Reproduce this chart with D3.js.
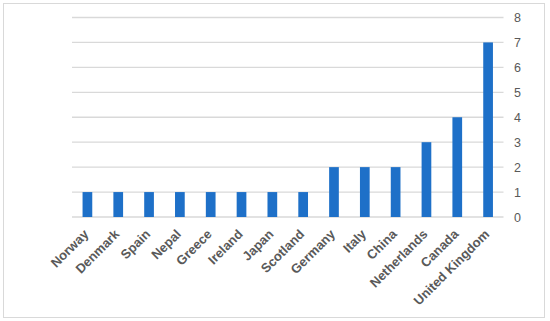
<!DOCTYPE html>
<html><head><meta charset="utf-8">
<script src="https://cdn.jsdelivr.net/npm/d3@7"></script>
<style>html,body{margin:0;padding:0;background:#fff;}</style>
</head><body>
<svg id="chart" width="550" height="321"></svg>
<script>
const categories = ["Norway","Denmark","Spain","Nepal","Greece","Ireland","Japan","Scotland","Germany","Italy","China","Netherlands","Canada","United Kingdom"];
const values = [1,1,1,1,1,1,1,1,2,2,2,3,4,7];
const yTicks = [0,1,2,3,4,5,6,7,8];

const svg = d3.select("#chart");
svg.append("rect").attr("x",3.5).attr("y",3.5).attr("width",541).attr("height",314)
  .attr("fill","#fff").attr("stroke","#d9d9d9").attr("stroke-width",1);

const x = d3.scaleBand().domain(categories).range([72,503.5]).paddingInner(0.685).paddingOuter(0.3425);
const y = d3.scaleLinear().domain([0,8]).range([217,17.5]);

// gridlines
svg.append("g").selectAll("line").data(yTicks).join("line")
  .attr("x1",72).attr("x2",503.5)
  .attr("y1",d=>y(d)).attr("y2",d=>y(d))
  .attr("stroke","#d9d9d9").attr("stroke-width",1.3);

// bars
svg.append("g").selectAll("rect").data(values).join("rect")
  .attr("x",(d,i)=>x(categories[i]))
  .attr("width",x.bandwidth())
  .attr("y",d=>y(d))
  .attr("height",d=>y(0)-y(d))
  .attr("fill","#1e70c8");

// y axis on right
const yAxis = d3.axisRight(y).tickValues(yTicks).tickSize(0).tickPadding(0);
const gy = svg.append("g").attr("transform","translate(514,0)").call(yAxis);
gy.select(".domain").remove();
gy.selectAll("text").attr("fill","#595959").style("font-family","Liberation Sans, Arial, sans-serif").style("font-size","12.5px");

// x labels
const xAxis = d3.axisBottom(x).tickSize(0).tickPadding(0);
const gx = svg.append("g").attr("transform","translate(0,217)").call(xAxis);
gx.select(".domain").remove();
gx.selectAll(".tick text")
  .attr("fill","#595959")
  .style("font-family","Liberation Sans, Arial, sans-serif")
  .style("font-size","13px").style("font-weight","bold")
  .attr("text-anchor","end")
  .attr("x",0).attr("y",0).attr("dy",0)
  .attr("transform","translate(2,18) rotate(-45)");
</script>
</body></html>
